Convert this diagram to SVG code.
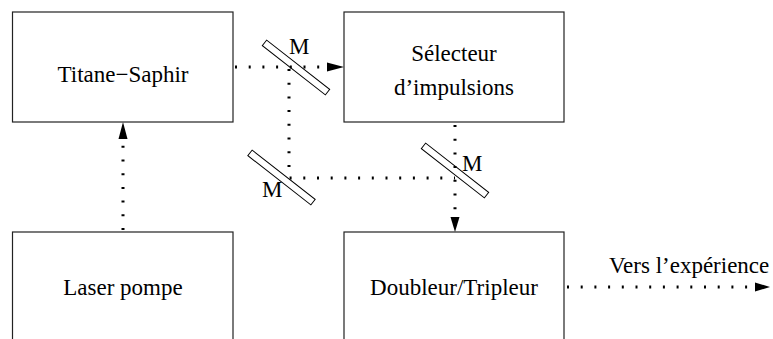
<svg xmlns="http://www.w3.org/2000/svg" width="773" height="339" viewBox="0 0 773 339">
<style>
.box{fill:#fff;stroke:#222;stroke-width:1.2}
.t{font-family:"Liberation Serif","Times New Roman",serif;font-size:23px;fill:#000}
.c{text-anchor:middle}
.beam{fill:none;stroke:#000;stroke-width:3;stroke-dasharray:2 11.7}
.mir{fill:none;stroke:#000;stroke-width:1}
</style>
<rect width="773" height="339" fill="#fff"/>
<g id="connectors">
<line class="beam" x1="123" y1="230" x2="123" y2="140"/>
<path d="M118.5,139 L123,122 L127.5,139 Z" fill="#000"/>
<line class="beam" x1="235" y1="67" x2="326" y2="67"/>
<path d="M327,62.5 L344,67 L327,71.5 Z" fill="#000"/>
<polyline class="beam" points="289,69 289,178 455,178"/>
<line class="beam" x1="455" y1="125" x2="455" y2="216"/>
<path d="M450.5,217 L459.5,217 L455,232 Z" fill="#000"/>
<line class="beam" x1="567" y1="287" x2="754" y2="287"/>
<path d="M755,282.5 L770,287 L755,291.5 Z" fill="#000"/>
</g>
<g id="mirror1">
<rect class="mir" x="-40" y="-3.5" width="80" height="7" transform="translate(296,67.5) rotate(38)"/>
<text class="t" x="289" y="54">M</text>
</g>
<g id="mirror2">
<rect class="mir" x="-40" y="-3.5" width="80" height="7" transform="translate(281.5,177.5) rotate(38)"/>
<text class="t" x="262" y="197">M</text>
</g>
<g id="mirror3">
<rect class="mir" x="-40" y="-3.5" width="80" height="7" transform="translate(455,170.5) rotate(38)"/>
<text class="t" x="462" y="171">M</text>
</g>
<g id="titane">
<rect class="box" x="12.5" y="12" width="220.5" height="110"/>
<text class="t c" x="123" y="82">Titane−Saphir</text>
</g>
<g id="selecteur">
<rect class="box" x="344" y="12" width="220" height="110"/>
<text class="t c" x="454" y="61">Sélecteur</text>
<text class="t c" x="454" y="95">d’impulsions</text>
</g>
<g id="laser">
<rect class="box" x="12.5" y="232" width="220.5" height="120"/>
<text class="t c" x="123" y="295">Laser pompe</text>
</g>
<g id="doubleur">
<rect class="box" x="344" y="232" width="220" height="120"/>
<text class="t c" x="454" y="295">Doubleur/Tripleur</text>
</g>
<g id="output-label">
<text class="t" x="609" y="273">Vers l’expérience</text>
</g>
</svg>
